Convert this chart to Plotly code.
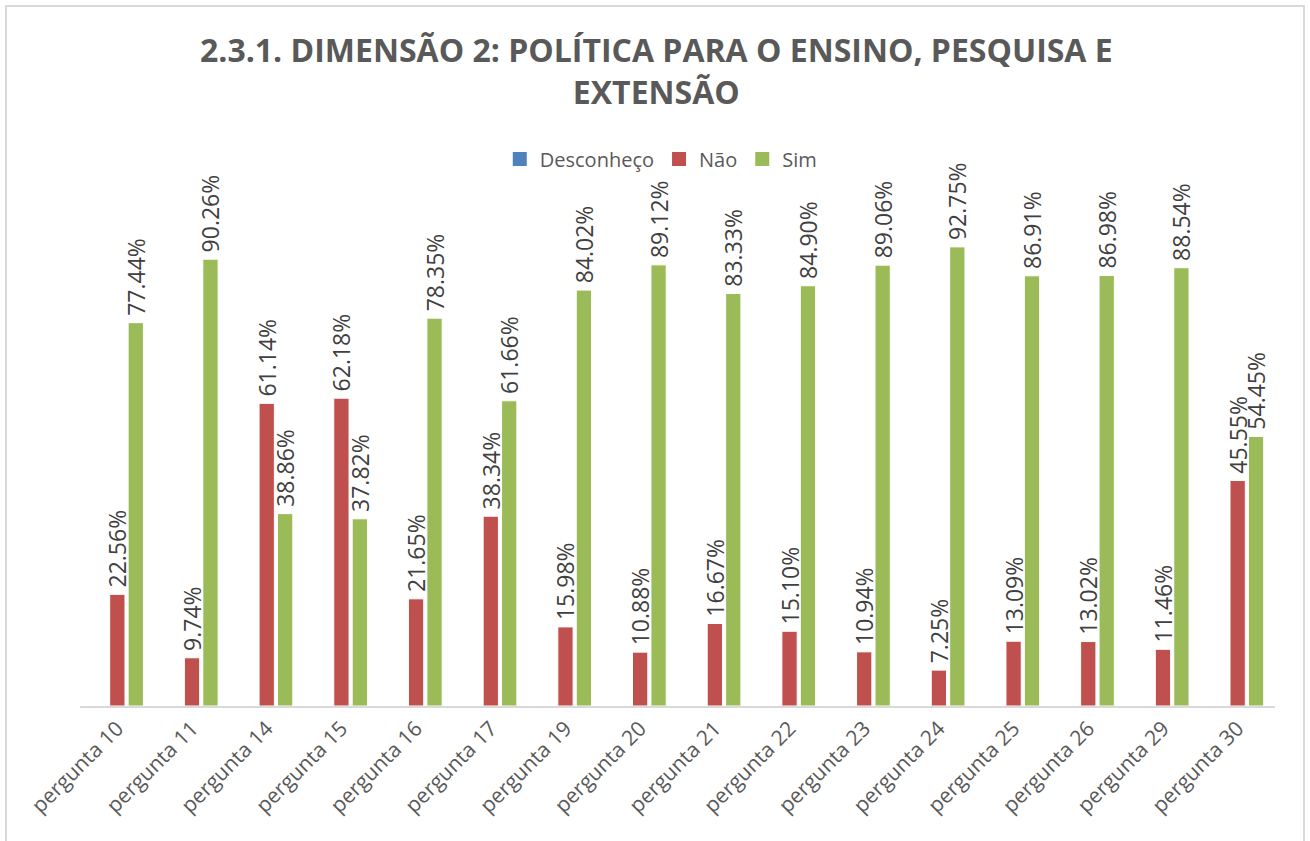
import plotly.graph_objects as go

categories = ["pergunta 10", "pergunta 11", "pergunta 14", "pergunta 15", "pergunta 16",
              "pergunta 17", "pergunta 19", "pergunta 20", "pergunta 21", "pergunta 22",
              "pergunta 23", "pergunta 24", "pergunta 25", "pergunta 26", "pergunta 29",
              "pergunta 30"]
desconheco = [0] * 16
nao = [22.56, 9.74, 61.14, 62.18, 21.65, 38.34, 15.98, 10.88, 16.67, 15.10,
       10.94, 7.25, 13.09, 13.02, 11.46, 45.55]
sim = [77.44, 90.26, 38.86, 37.82, 78.35, 61.66, 84.02, 89.12, 83.33, 84.90,
       89.06, 92.75, 86.91, 86.98, 88.54, 54.45]

series_names = ["Desconheço", "Não", "Sim"]
series_colors = ["#4F81BD", "#C0504D", "#9BBB59"]

FONT = "Open Sans"
label_font = dict(family=FONT, size=23, color="#404040")

fig = go.Figure()
for name, vals, color, labelled in zip(series_names, [desconheco, nao, sim], series_colors,
                                       [False, True, True]):
    kw = {}
    if labelled:
        kw = dict(texttemplate="\u2009%{y:.2f}%", textposition="outside", textangle=-90,
                  constraintext="none", textfont=label_font, cliponaxis=False)
    fig.add_trace(go.Bar(name=name, x=categories, y=vals, showlegend=False,
                         marker=dict(color=color, line=dict(color="white", width=1)), **kw))
# legend entries with larger square swatches
for name, color in zip(series_names, series_colors):
    fig.add_trace(go.Scatter(name=name, x=[None], y=[None], mode="markers",
                             marker=dict(symbol="square", size=14, color=color)))

fig.update_layout(
    width=1310, height=841,
    paper_bgcolor="white", plot_bgcolor="white",
    margin=dict(l=80, r=35, t=211, b=135, autoexpand=False),
    barmode="group", bargap=0.26, bargroupgap=0.17,
    title=dict(text="<b>2.3.1. DIMENSÃO 2: POLÍTICA PARA O ENSINO, PESQUISA E<br>EXTENSÃO</b>",
               x=0.501, xanchor="center", yref="container", y=1 - 62 / 841, yanchor="top",
               font=dict(family=FONT, size=32, color="#595959")),
    legend=dict(orientation="h", x=0.486, xanchor="center", y=1.105, yanchor="middle",
                font=dict(family=FONT, size=20, color="#595959"),
                itemsizing="trace", traceorder="normal", itemwidth=30),
    showlegend=True,
    shapes=[dict(type="rect", xref="paper", yref="paper",
                 x0=-74 / 1195, x1=1224 / 1195, y0=-0.4, y1=700 / 495,
                 line=dict(color="#D9D9D9", width=2), fillcolor="rgba(0,0,0,0)", layer="below")],
)
fig.update_xaxes(showline=True, linecolor="#D9D9D9", linewidth=2, ticks="",
                 tickangle=-45, tickfont=dict(family=FONT, size=21, color="#595959"),
                 showgrid=False, automargin=False)
fig.update_yaxes(range=[0, 100], visible=False, showgrid=False, zeroline=False,
                 automargin=False)

fig.write_html("out.html", config={"displayModeBar": False},
               post_script="document.body.style.margin='0';")
